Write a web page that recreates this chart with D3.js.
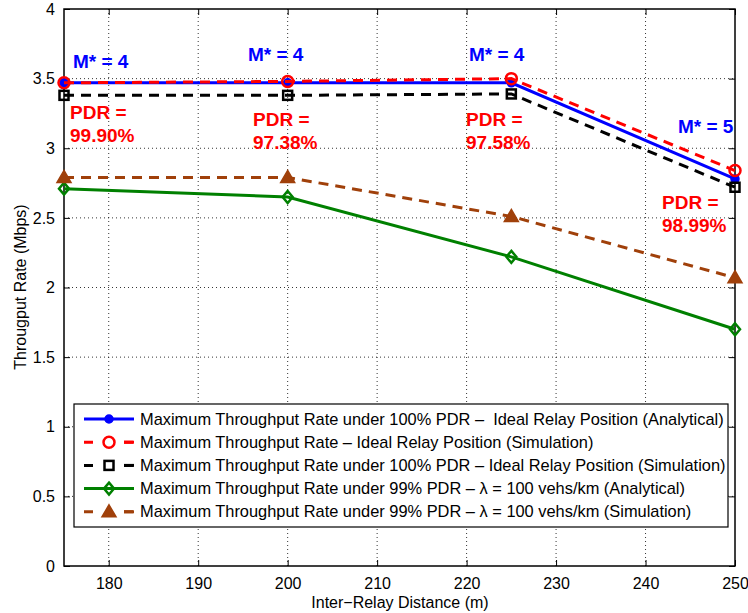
<!DOCTYPE html>
<meta charset="utf-8">
<style>
  body { margin: 0; background: #fff; }
  text { font-family: "Liberation Sans", Arial, sans-serif; }
  .grid line { stroke: #000; stroke-dasharray: 1,3; stroke-width: 0.8; }
  .lbl { font-weight: bold; font-size: 19px; }
</style>
<body>
<div id="chart"></div>
<script src="https://d3js.org/d3.v7.min.js"></script>
<script>

// data
var distances = [175, 200, 225, 250];
var analytical100 = [3.47, 3.47, 3.47, 2.78];
var idealSim = [3.47, 3.48, 3.50, 2.84];
var sim100 = [3.38, 3.38, 3.39, 2.72];
var analytical99 = [2.71, 2.65, 2.22, 1.70];
var sim99 = [2.79, 2.79, 2.51, 2.07];

var xTicks = [180, 190, 200, 210, 220, 230, 240, 250];
var yTicks = [0, 0.5, 1, 1.5, 2, 2.5, 3, 3.5, 4];

var mLabels = ["M* = 4", "M* = 4", "M* = 4", "M* = 5"];
var pdrLabels = ["99.90%", "97.38%", "97.58%", "98.99%"];

var legendNames = [
  "Maximum Throughput Rate under 100% PDR \u2013  Ideal Relay Position (Analytical)",
  "Maximum Throughput Rate \u2013 Ideal Relay Position (Simulation)",
  "Maximum Throughput Rate under 100% PDR \u2013 Ideal Relay Position (Simulation)",
  "Maximum Throughput Rate under 99% PDR \u2013 \u03bb = 100 vehs/km (Analytical)",
  "Maximum Throughput Rate under 99% PDR \u2013 \u03bb = 100 vehs/km (Simulation)"
];

var series = [
  {values: analytical100, color: "#0000ff", dash: null, marker: "dot"},
  {values: idealSim, color: "#ff0000", dash: "10,7", marker: "circle"},
  {values: sim100, color: "#000000", dash: "10,7", marker: "square"},
  {values: analytical99, color: "#008000", dash: null, marker: "diamond"},
  {values: sim99, color: "#a0400a", dash: "10,7", marker: "triangle"}
];

var W = 748, H = 613;
var margin = {top: 9, right: 13, bottom: 47, left: 64};
var width = W - margin.left - margin.right,
    height = H - margin.top - margin.bottom;

var x = d3.scaleLinear().domain([175, 250]).range([0, width]);
var y = d3.scaleLinear().domain([0, 4]).range([height, 0]);

var svg = d3.select("#chart").append("svg")
    .attr("width", W)
    .attr("height", H)
  .append("g")
    .attr("transform", "translate(" + margin.left + "," + margin.top + ")");

// dotted grid
svg.append("g").attr("class", "grid")
  .selectAll("line").data(xTicks.slice(0, -1)).enter().append("line")
    .attr("x1", d => x(d)).attr("x2", d => x(d))
    .attr("y1", 0).attr("y2", height);
svg.append("g").attr("class", "grid")
  .selectAll("line").data(yTicks.slice(1, -1)).enter().append("line")
    .attr("y1", d => y(d)).attr("y2", d => y(d))
    .attr("x1", 0).attr("x2", width);

// axes, ticks inside like matlab
var tk = 6;
var gx = svg.append("g")
  .attr("transform", "translate(0," + height + ")")
  .call(d3.axisBottom(x).tickValues(xTicks).tickSizeInner(-tk).tickSizeOuter(0).tickPadding(12));
var gxTop = svg.append("g")
  .call(d3.axisTop(x).tickValues(xTicks).tickSizeInner(-tk).tickSizeOuter(0).tickFormat(""));
var gy = svg.append("g")
  .call(d3.axisLeft(y).tickValues(yTicks).tickSizeInner(-tk).tickSizeOuter(0).tickPadding(9)
    .tickFormat(d3.format("")));
var gyR = svg.append("g")
  .attr("transform", "translate(" + width + ",0)")
  .call(d3.axisRight(y).tickValues(yTicks).tickSizeInner(-tk).tickSizeOuter(0).tickFormat(""));

[gx, gxTop, gy, gyR].forEach(function(g) {
  g.select(".domain").remove();
  g.selectAll("line").attr("stroke", "#000");
  g.selectAll("text").attr("font-size", "16px").attr("fill", "#000")
    .style("font-family", "'Liberation Sans', Arial, sans-serif");
});

svg.append("rect")
  .attr("width", width).attr("height", height)
  .attr("fill", "none").attr("stroke", "#000").attr("stroke-width", 1.5);

// markers
function drawMarker(g, type, color, cx, cy) {
  if (type === "dot") {
    g.append("circle").attr("cx", cx).attr("cy", cy).attr("r", 4)
      .attr("fill", color).attr("stroke", color).attr("stroke-width", 1.5);
  } else if (type === "circle") {
    g.append("circle").attr("cx", cx).attr("cy", cy).attr("r", 5.5)
      .attr("fill", "none").attr("stroke", color).attr("stroke-width", 2.5);
  } else if (type === "square") {
    g.append("rect").attr("x", cx - 4.5).attr("y", cy - 4.5).attr("width", 9).attr("height", 9)
      .attr("fill", "none").attr("stroke", color).attr("stroke-width", 2.5);
  } else if (type === "diamond") {
    g.append("path").attr("d", "M" + cx + "," + (cy - 6) + "L" + (cx + 5) + "," + cy +
        "L" + cx + "," + (cy + 6) + "L" + (cx - 5) + "," + cy + "Z")
      .attr("fill", "none").attr("stroke", color).attr("stroke-width", 2.5);
  } else if (type === "triangle") {
    g.append("path").attr("d", "M" + cx + "," + (cy - 7) + "L" + (cx + 7) + "," + (cy + 5) +
        "L" + (cx - 7) + "," + (cy + 5) + "Z")
      .attr("fill", color).attr("stroke", color).attr("stroke-width", 1.5);
  }
}

var line = d3.line()
  .x(function(d, i) { return x(distances[i]); })
  .y(function(d) { return y(d); });

series.forEach(function(s) {
  var g = svg.append("g");
  g.append("path")
    .attr("d", line(s.values))
    .attr("fill", "none")
    .attr("stroke", s.color)
    .attr("stroke-width", 3)
    .attr("stroke-dasharray", s.dash);
  s.values.forEach(function(v, i) {
    drawMarker(g, s.marker, s.color, x(distances[i]), y(v));
  });
});

// annotations
var mPos = [[73 - 64, 68 - 9], [248 - 64, 61 - 9], [469 - 64, 61 - 9], [678 - 64, 133 - 9]];
var pPos = [[70 - 64, 119 - 9], [253 - 64, 126 - 9], [466 - 64, 126 - 9], [662 - 64, 209 - 9]];
mLabels.forEach(function(t, i) {
  svg.append("text").attr("class", "lbl").attr("fill", "#0000ff")
    .attr("x", mPos[i][0]).attr("y", mPos[i][1]).text(t);
});
pdrLabels.forEach(function(t, i) {
  svg.append("text").attr("class", "lbl").attr("fill", "#ff0000")
    .attr("x", pPos[i][0]).attr("y", pPos[i][1]).text("PDR =");
  svg.append("text").attr("class", "lbl").attr("fill", "#ff0000")
    .attr("x", pPos[i][0]).attr("y", pPos[i][1] + 23).text(t);
});

// legend
var leg = svg.append("g").attr("transform", "translate(" + (74 - 64) + "," + (404 - 9) + ")");
leg.append("rect").attr("width", 654).attr("height", 123)
  .attr("fill", "#fff").attr("stroke", "#000").attr("stroke-width", 1.2);
legendNames.forEach(function(name, i) {
  var s = series[i];
  var cy = 15 + i * 23.2;
  leg.append("line").attr("x1", 10).attr("x2", 60).attr("y1", cy).attr("y2", cy)
    .attr("stroke", s.color).attr("stroke-width", 3)
    .attr("stroke-dasharray", s.dash ? "9,31" : null)
    .attr("stroke-dashoffset", 0);
  if (s.dash) {
    leg.append("line").attr("x1", 50).attr("x2", 60).attr("y1", cy).attr("y2", cy)
      .attr("stroke", s.color).attr("stroke-width", 3);
  }
  drawMarker(leg, s.marker, s.color, 35, cy);
  leg.append("text").attr("x", 66).attr("y", cy + 5.5)
    .attr("font-size", "16.4px").attr("fill", "#000")
    .style("white-space", "pre").text(name);
});

// axis labels
svg.append("text")
  .attr("text-anchor", "middle")
  .attr("x", 400 - 64)
  .attr("y", height + 42)
  .attr("font-size", "16px")
  .text("Inter\u2212Relay Distance (m)");

svg.append("text")
  .attr("text-anchor", "middle")
  .attr("transform", "rotate(-90)")
  .attr("x", -(287 - 9))
  .attr("y", 26 - 64)
  .attr("font-size", "16px")
  .text("Througput Rate (Mbps)");

</script>
</body>
</html>
